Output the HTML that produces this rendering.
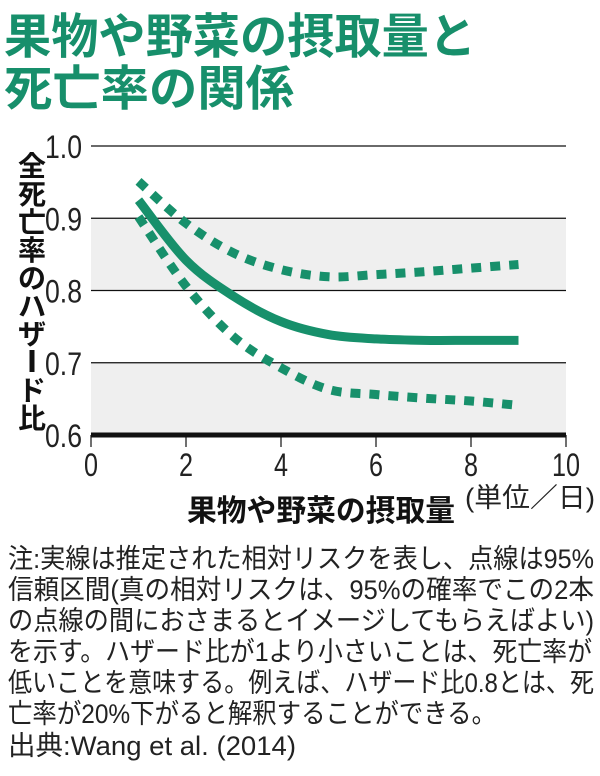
<!DOCTYPE html>
<html><head><meta charset="utf-8"><style>
html,body{margin:0;padding:0;background:#fff;}
svg{display:block;}
.jp{font-family:"Liberation Sans","Noto Sans CJK JP",sans-serif;}
</style></head><body>
<svg id="chart" width="600" height="776" viewBox="0 0 600 776" xmlns="http://www.w3.org/2000/svg">
<g class="jp" fill="#178f6b" font-weight="bold" font-size="48">
<text x="4" y="53" textLength="472" lengthAdjust="spacingAndGlyphs">果物や野菜の摂取量と</text>
<text x="4" y="105" textLength="290" lengthAdjust="spacingAndGlyphs">死亡率の関係</text>
</g>
<g id="plot"></g>
<g class="jp" font-size="28" font-weight="bold" fill="#111" text-anchor="middle">
<text x="32" y="176">全</text>
<text x="32" y="204">死</text>
<text x="32" y="232">亡</text>
<text x="32" y="260">率</text>
<text x="32" y="288">の</text>
<text x="32" y="316">ハ</text>
<text x="32" y="344">ザ</text>
<rect x="29.5" y="350" width="5" height="22" fill="#111"/>
<text x="32" y="400">ド</text>
<text x="32" y="428">比</text>
</g>
<text class="jp" x="187" y="521" font-size="30" font-weight="bold" fill="#111" textLength="268" lengthAdjust="spacingAndGlyphs">果物や野菜の摂取量</text>
<text class="jp" x="465" y="507" font-size="27" fill="#222" textLength="130" lengthAdjust="spacingAndGlyphs">(単位／日)</text>
<g class="jp" font-size="27" fill="#222">
<text x="8" y="568" textLength="586" lengthAdjust="spacingAndGlyphs">注:実線は推定された相対リスクを表し、点線は95%</text>
<text x="8" y="599" textLength="586" lengthAdjust="spacingAndGlyphs">信頼区間(真の相対リスクは、95%の確率でこの2本</text>
<text x="8" y="630" textLength="586" lengthAdjust="spacingAndGlyphs">の点線の間におさまるとイメージしてもらえばよい)</text>
<text x="8" y="661" textLength="584" lengthAdjust="spacingAndGlyphs">を示す。ハザード比が1より小さいことは、死亡率が</text>
<text x="8" y="692" textLength="586" lengthAdjust="spacingAndGlyphs">低いことを意味する。例えば、ハザード比0.8とは、死</text>
<text x="8" y="723" textLength="488" lengthAdjust="spacingAndGlyphs">亡率が20%下がると解釈することができる。</text>
<text x="8" y="755" textLength="288" lengthAdjust="spacingAndGlyphs">出典:Wang et al. (2014)</text>
</g>
</svg>
<script>
const xValues = [1, 2, 3, 4, 5, 6, 7, 8, 9];
const estimate = [0.925, 0.842, 0.792, 0.757, 0.739, 0.733, 0.731, 0.731, 0.731];
const upperCI = [0.951, 0.893, 0.852, 0.829, 0.819, 0.822, 0.826, 0.831, 0.836];
const lowerCI = [0.902, 0.806, 0.736, 0.693, 0.663, 0.656, 0.651, 0.647, 0.641];
const yTicks = ["1.0", "0.9", "0.8", "0.7", "0.6"];
const xTicks = ["0", "2", "4", "6", "8", "10"];

const NS = "http://www.w3.org/2000/svg";
const X0 = 91, X1 = 566, Y0 = 435, Y1 = 146;
const sx = v => X0 + (v - 0) / 10 * (X1 - X0);
const sy = v => Y0 - (v - 0.6) / 0.4 * (Y0 - Y1);
const plot = document.getElementById('plot');
function mk(tag, attrs) {
  const e = document.createElementNS(NS, tag);
  for (const k in attrs) e.setAttribute(k, attrs[k]);
  plot.appendChild(e);
  return e;
}
[[0.8, 0.9], [0.6, 0.7]].forEach((b, i) => {
  const r = mk('rect', {x: X0, y: sy(b[1]), width: X1 - X0, height: sy(b[0]) - sy(b[1]), fill: '#efefef'});
  
  
});
yTicks.forEach(t => {
  const v = parseFloat(t);
  if (v > 0.6) {
    const l = mk('line', {x1: X0, x2: X1, y1: sy(v), y2: sy(v), stroke: '#111', 'stroke-width': 1.2});
    
    
  }
  const tx = mk('text', {x: 82, y: sy(v) + 12, 'text-anchor': 'end', 'font-size': 32, fill: '#222', 'font-family': 'Liberation Sans Narrow, Liberation Sans, sans-serif', textLength: 37, lengthAdjust: 'spacingAndGlyphs'});
  tx.textContent = t;
  
  
});
xTicks.forEach(t => {
  const v = parseFloat(t);
  const l = mk('line', {x1: sx(v), x2: sx(v), y1: Y0, y2: Y0 + 12, stroke: '#111', 'stroke-width': 1.2});
  
  
  const tx = mk('text', {x: sx(v), y: 476, 'text-anchor': 'middle', 'font-size': 32, fill: '#222', 'font-family': 'Liberation Sans Narrow, Liberation Sans, sans-serif', textLength: t.length * 14, lengthAdjust: 'spacingAndGlyphs'});
  tx.textContent = t;
  
  
});
const base = mk('line', {x1: X0, x2: X1, y1: Y0, y2: Y0, stroke: '#111', 'stroke-width': 5});



function pathFor(ys) {
  const p = xValues.map((x, i) => [sx(x), sy(ys[i])]);
  let d = 'M' + p[0][0] + ',' + p[0][1];
  for (let i = 0; i < p.length - 1; i++) {
    const p0 = p[i - 1] || p[i], p1 = p[i], p2 = p[i + 1], p3 = p[i + 2] || p2;
    const c1 = [p1[0] + (p2[0] - p0[0]) / 6, p1[1] + (p2[1] - p0[1]) / 6];
    const c2 = [p2[0] - (p3[0] - p1[0]) / 6, p2[1] - (p3[1] - p1[1]) / 6];
    d += ' C' + c1 + ' ' + c2 + ' ' + p2;
  }
  return d;
}
const green = '#17906b';
const up = mk('path', {d: pathFor(upperCI), fill: 'none', stroke: green, 'stroke-width': 9, 'stroke-dasharray': '10 9'});


const lo = mk('path', {d: pathFor(lowerCI), fill: 'none', stroke: green, 'stroke-width': 9, 'stroke-dasharray': '10 9'});


const est = mk('path', {d: pathFor(estimate), fill: 'none', stroke: green, 'stroke-width': 9});


</script>
</body></html>
